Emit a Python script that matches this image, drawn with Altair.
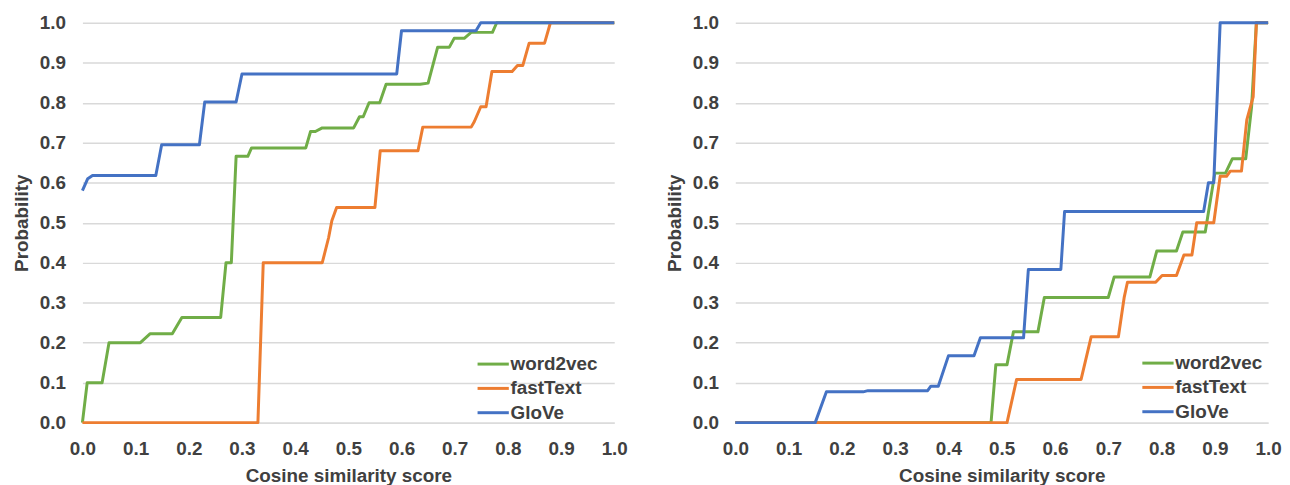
import altair as alt
import pandas as pd

# ---------------- data ----------------
series_names = ["word2vec", "fastText", "GloVe"]
series_colors = ["#70AD47", "#ED7D31", "#4472C4"]
x_ticks = [0.0, 0.1, 0.2, 0.3, 0.4, 0.5, 0.6, 0.7, 0.8, 0.9, 1.0]
y_ticks = [0.0, 0.1, 0.2, 0.3, 0.4, 0.5, 0.6, 0.7, 0.8, 0.9, 1.0]

# Left panel
left_w2v_x = [0.0, 0.009, 0.037, 0.05, 0.109, 0.127, 0.169, 0.187, 0.26, 0.27, 0.28, 0.289, 0.311, 0.318,
              0.42, 0.429, 0.438, 0.451, 0.51, 0.521, 0.528, 0.539, 0.559, 0.571, 0.635, 0.65, 0.668, 0.69,
              0.699, 0.718, 0.731, 0.771, 0.779, 1.0]
left_w2v_y = [0.0, 0.1, 0.1, 0.2, 0.2, 0.222, 0.222, 0.263, 0.263, 0.40, 0.40, 0.666, 0.666, 0.687,
              0.687, 0.728, 0.728, 0.737, 0.737, 0.765, 0.765, 0.80, 0.80, 0.846, 0.846, 0.849, 0.939, 0.939,
              0.961, 0.961, 0.976, 0.976, 1.0, 1.0]

left_ft_x = [0.0, 0.33, 0.34, 0.451, 0.463, 0.469, 0.478, 0.55, 0.56, 0.631, 0.64, 0.731, 0.737, 0.749,
             0.759, 0.77, 0.808, 0.818, 0.828, 0.84, 0.869, 0.88, 1.0]
left_ft_y = [0.0, 0.0, 0.40, 0.40, 0.463, 0.505, 0.538, 0.538, 0.68, 0.68, 0.739, 0.739, 0.753, 0.79,
             0.79, 0.878, 0.878, 0.893, 0.893, 0.949, 0.949, 1.0, 1.0]

left_gl_x = [0.0, 0.01, 0.019, 0.138, 0.149, 0.22, 0.23, 0.289, 0.30, 0.591, 0.60, 0.74, 0.749, 1.0]
left_gl_y = [0.58, 0.61, 0.618, 0.618, 0.695, 0.695, 0.802, 0.802, 0.872, 0.872, 0.98, 0.98, 1.0, 1.0]

# Right panel
right_w2v_x = [0.0, 0.48, 0.489, 0.51, 0.522, 0.568, 0.58, 0.70, 0.711, 0.778, 0.791, 0.828, 0.84, 0.882,
               0.90, 0.92, 0.933, 0.958, 0.969, 0.978, 1.0]
right_w2v_y = [0.0, 0.0, 0.145, 0.145, 0.227, 0.227, 0.313, 0.313, 0.364, 0.364, 0.429, 0.429, 0.477, 0.477,
               0.624, 0.624, 0.66, 0.66, 0.79, 1.0, 1.0]

right_ft_x = [0.0, 0.51, 0.528, 0.649, 0.668, 0.719, 0.73, 0.736, 0.789, 0.801, 0.828, 0.842, 0.857, 0.866,
              0.898, 0.91, 0.922, 0.929, 0.95, 0.96, 0.972, 0.978, 1.0]
right_ft_y = [0.0, 0.0, 0.108, 0.108, 0.215, 0.215, 0.314, 0.351, 0.351, 0.368, 0.368, 0.419, 0.419, 0.50,
              0.50, 0.616, 0.616, 0.629, 0.629, 0.757, 0.815, 1.0, 1.0]

right_gl_x = [0.0, 0.15, 0.171, 0.24, 0.249, 0.361, 0.367, 0.381, 0.40, 0.448, 0.46, 0.541, 0.55, 0.611,
              0.618, 0.879, 0.888, 0.898, 0.91, 1.0]
right_gl_y = [0.0, 0.0, 0.077, 0.077, 0.08, 0.08, 0.091, 0.091, 0.167, 0.167, 0.212, 0.212, 0.383, 0.383,
              0.528, 0.528, 0.60, 0.60, 1.0, 1.0]


def make_frame(pairs):
    rows = []
    for name, xs, ys in pairs:
        for i, (xv, yv) in enumerate(zip(xs, ys)):
            rows.append({"series": name, "x": xv, "y": yv, "i": i})
    return pd.DataFrame(rows)


left_df = make_frame([("word2vec", left_w2v_x, left_w2v_y),
                      ("fastText", left_ft_x, left_ft_y),
                      ("GloVe", left_gl_x, left_gl_y)])
right_df = make_frame([("word2vec", right_w2v_x, right_w2v_y),
                       ("fastText", right_ft_x, right_ft_y),
                       ("GloVe", right_gl_x, right_gl_y)])

FONT = "Liberation Sans"
TXT = "#404040"
# legend line symbol: a horizontal stroke 1.5x longer than the symbol's nominal size
LEGEND_LINE = "M-1.5,0H1.5"


def panel(df, legend_x, legend_y, width):
    base = alt.Chart(df)
    layers = []
    for name in series_names:
        layers.append(
            base.transform_filter(alt.datum.series == name)
            .mark_line(strokeWidth=3, strokeJoin="round")
            .encode(
                x=alt.X("x:Q",
                        scale=alt.Scale(domain=[0, 1], nice=False, zero=False),
                        axis=alt.Axis(values=x_ticks, format=".1f", title="Cosine similarity score",
                                      grid=False, ticks=False, domain=True, domainColor="#d9d9d9",
                                      domainWidth=1.5, labelPadding=17, titlePadding=8,
                                      labelFlush=False, labelOverlap=False)),
                y=alt.Y("y:Q",
                        scale=alt.Scale(domain=[0, 1], nice=False),
                        axis=alt.Axis(values=y_ticks, format=".1f", title="Probability",
                                      grid=True, gridColor="#d9d9d9", gridWidth=1.5, ticks=False,
                                      domain=False, labelPadding=17, titlePadding=8,
                                      labelOverlap=False)),
                color=alt.Color("series:N",
                                scale=alt.Scale(domain=series_names, range=series_colors),
                                legend=alt.Legend(orient="none", legendX=legend_x, legendY=legend_y,
                                                  title=None, symbolType=LEGEND_LINE, symbolSize=441,
                                                  symbolStrokeWidth=3, labelFontSize=19, labelFont=FONT,
                                                  labelFontWeight="bold", labelColor=TXT, rowPadding=2.5,
                                                  padding=0, labelOffset=5.5)),
                order=alt.Order("i:Q"),
            )
        )
    return alt.layer(*layers).properties(width=width, height=403)


left = panel(left_df, 402, 332, 536)
right = panel(right_df, 414, 331, 537)

chart = (
    alt.hconcat(left, right, spacing=122, bounds="flush")
    .resolve_legend(color="independent")
    .properties(padding={"left": 4, "top": 3, "right": 0, "bottom": 0})
    .configure_view(stroke="transparent")
    .configure_axis(labelFont=FONT, labelFontWeight="bold", labelFontSize=19, labelColor=TXT,
                    titleFont=FONT, titleFontWeight="bold", titleFontSize=19, titleColor=TXT)
)

chart.save("out.html", embed_options={"renderer": "svg", "actions": False})
